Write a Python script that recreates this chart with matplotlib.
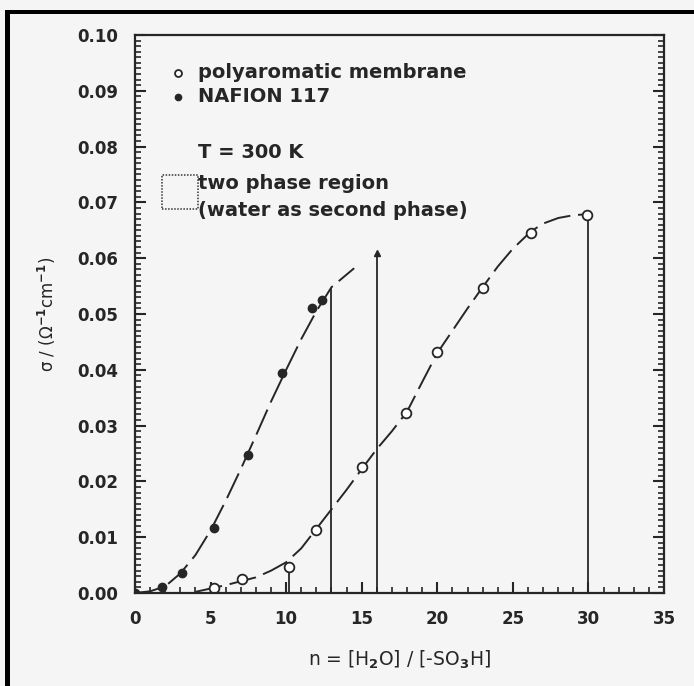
import matplotlib.pyplot as plt
import matplotlib.patches as mpatches

# measured points
naf_x = [0, 1.8, 3.1, 5.2, 7.5, 9.7, 11.7, 12.4]
naf_y = [0.0, 0.001, 0.0036, 0.0116, 0.0247, 0.0394, 0.0510, 0.0525]
poly_x = [5.2, 7.1, 10.2, 12.0, 15.0, 17.9, 20.0, 23.0, 26.2, 29.9]
poly_y = [0.0009, 0.0025, 0.0047, 0.0113, 0.0226, 0.0322, 0.0432, 0.0547, 0.0645, 0.0677]

# dashed guide curves
naf_cx = [0, 1, 2, 3, 4, 5, 6, 7, 8, 9, 10, 11, 12, 13, 14.5]
naf_cy = [0.0, 0.0003, 0.0012, 0.0035, 0.0068, 0.0112, 0.0165, 0.0222, 0.0282, 0.0343, 0.0400, 0.0455, 0.0505, 0.0548, 0.0582]
poly_cx = [4, 5, 6, 7, 8, 9, 10, 11, 12, 13, 14, 15, 16, 17, 18, 19, 20, 21, 22, 23, 24, 25, 26.2, 27, 28, 29, 30]
poly_cy = [0.0002, 0.0008, 0.0014, 0.0021, 0.0028, 0.0040, 0.0055, 0.0080, 0.0115, 0.0150, 0.0185, 0.0222, 0.0258, 0.0290, 0.0325, 0.0378, 0.0430, 0.0470, 0.0510, 0.0548, 0.0585, 0.0617, 0.0648, 0.0662, 0.0672, 0.0677, 0.0679]

# two phase boundaries (x, top)
vline_x = [10.2, 13, 16, 30]
vline_top = [0.0047, 0.0545, 0.061, 0.0679]

ink = '#262626'
plt.rcParams['font.family'] = ['DejaVu Sans']
plt.rcParams['font.weight'] = 'bold'
plt.rcParams['mathtext.default'] = 'bf'

fig = plt.figure(figsize=(6.94, 6.86), dpi=100, facecolor='#f5f5f5')
ax = fig.add_axes([0.1945, 0.1356, 0.7623, 0.8134])
ax.set_facecolor('#f5f5f5')

# scan border (L shape at top/left)
fig.add_artist(mpatches.Rectangle((0.007, 0.0), 0.007, 0.985, transform=fig.transFigure, color='black', lw=0))
fig.add_artist(mpatches.Rectangle((0.007, 0.979), 0.993, 0.007, transform=fig.transFigure, color='black', lw=0))

ax.plot(naf_cx, naf_cy, color=ink, lw=1.4, dashes=(14, 4))
ax.plot(poly_cx, poly_cy, color=ink, lw=1.4, dashes=(14, 4))

for x, top in zip(vline_x, vline_top):
    ax.plot([x, x], [0, top], color=ink, lw=1.3)

ax.plot(naf_x, naf_y, 'o', ms=6, color=ink)
ax.plot([16], [0.061], '^', ms=5, color=ink)
ax.plot(poly_x, poly_y, 'o', ms=7, mfc='white', mec=ink, mew=1.3)

# legend block
fs = 14
ax.plot([2.85], [0.0932], 'o', ms=5, mfc='white', mec=ink, mew=1.3)
ax.text(4.2, 0.0932, 'polyaromatic membrane', fontsize=fs, color=ink, va='center')
ax.plot([2.85], [0.0889], 'o', ms=4.5, color=ink)
ax.text(4.2, 0.0889, 'NAFION 117', fontsize=fs, color=ink, va='center')
ax.text(4.2, 0.0789, 'T = 300 K', fontsize=fs, color=ink, va='center')
ax.add_patch(mpatches.Rectangle((1.8, 0.0688), 2.35, 0.0061, fill=False, ec='#333333', lw=1.1, ls=(0, (1, 1))))
ax.text(4.2, 0.0733, 'two phase region', fontsize=fs, color=ink, va='center')
ax.text(4.2, 0.0686, '(water as second phase)', fontsize=fs, color=ink, va='center')

ax.set_xlim(0, 35)
ax.set_ylim(0, 0.10)
ax.set_xticks([0, 5, 10, 15, 20, 25, 30, 35])
ax.set_xticks(range(0, 36), minor=True)
ax.set_yticks([i / 100 for i in range(11)])
ax.set_yticklabels(['%.2f' % (i / 100) for i in range(11)])
ax.set_yticks([i / 1000 for i in range(101)], minor=True)
ax.tick_params(which='both', direction='in', colors=ink, labelsize=12, right=True, top=False)
ax.tick_params(which='major', length=8, width=1.5, pad=12)
ax.tick_params(which='minor', length=4, width=1.2)
for s in ax.spines.values():
    s.set_linewidth(1.6)
    s.set_color(ink)

ax.set_xlabel('n = [H$_2$O] / [-SO$_3$H]', fontsize=13.5, color=ink, labelpad=15)
ax.set_ylabel('σ / (Ω$^{-1}$cm$^{-1}$)', fontsize=12, color=ink, labelpad=14)

fig.savefig('out.png', dpi=100, facecolor=fig.get_facecolor())
